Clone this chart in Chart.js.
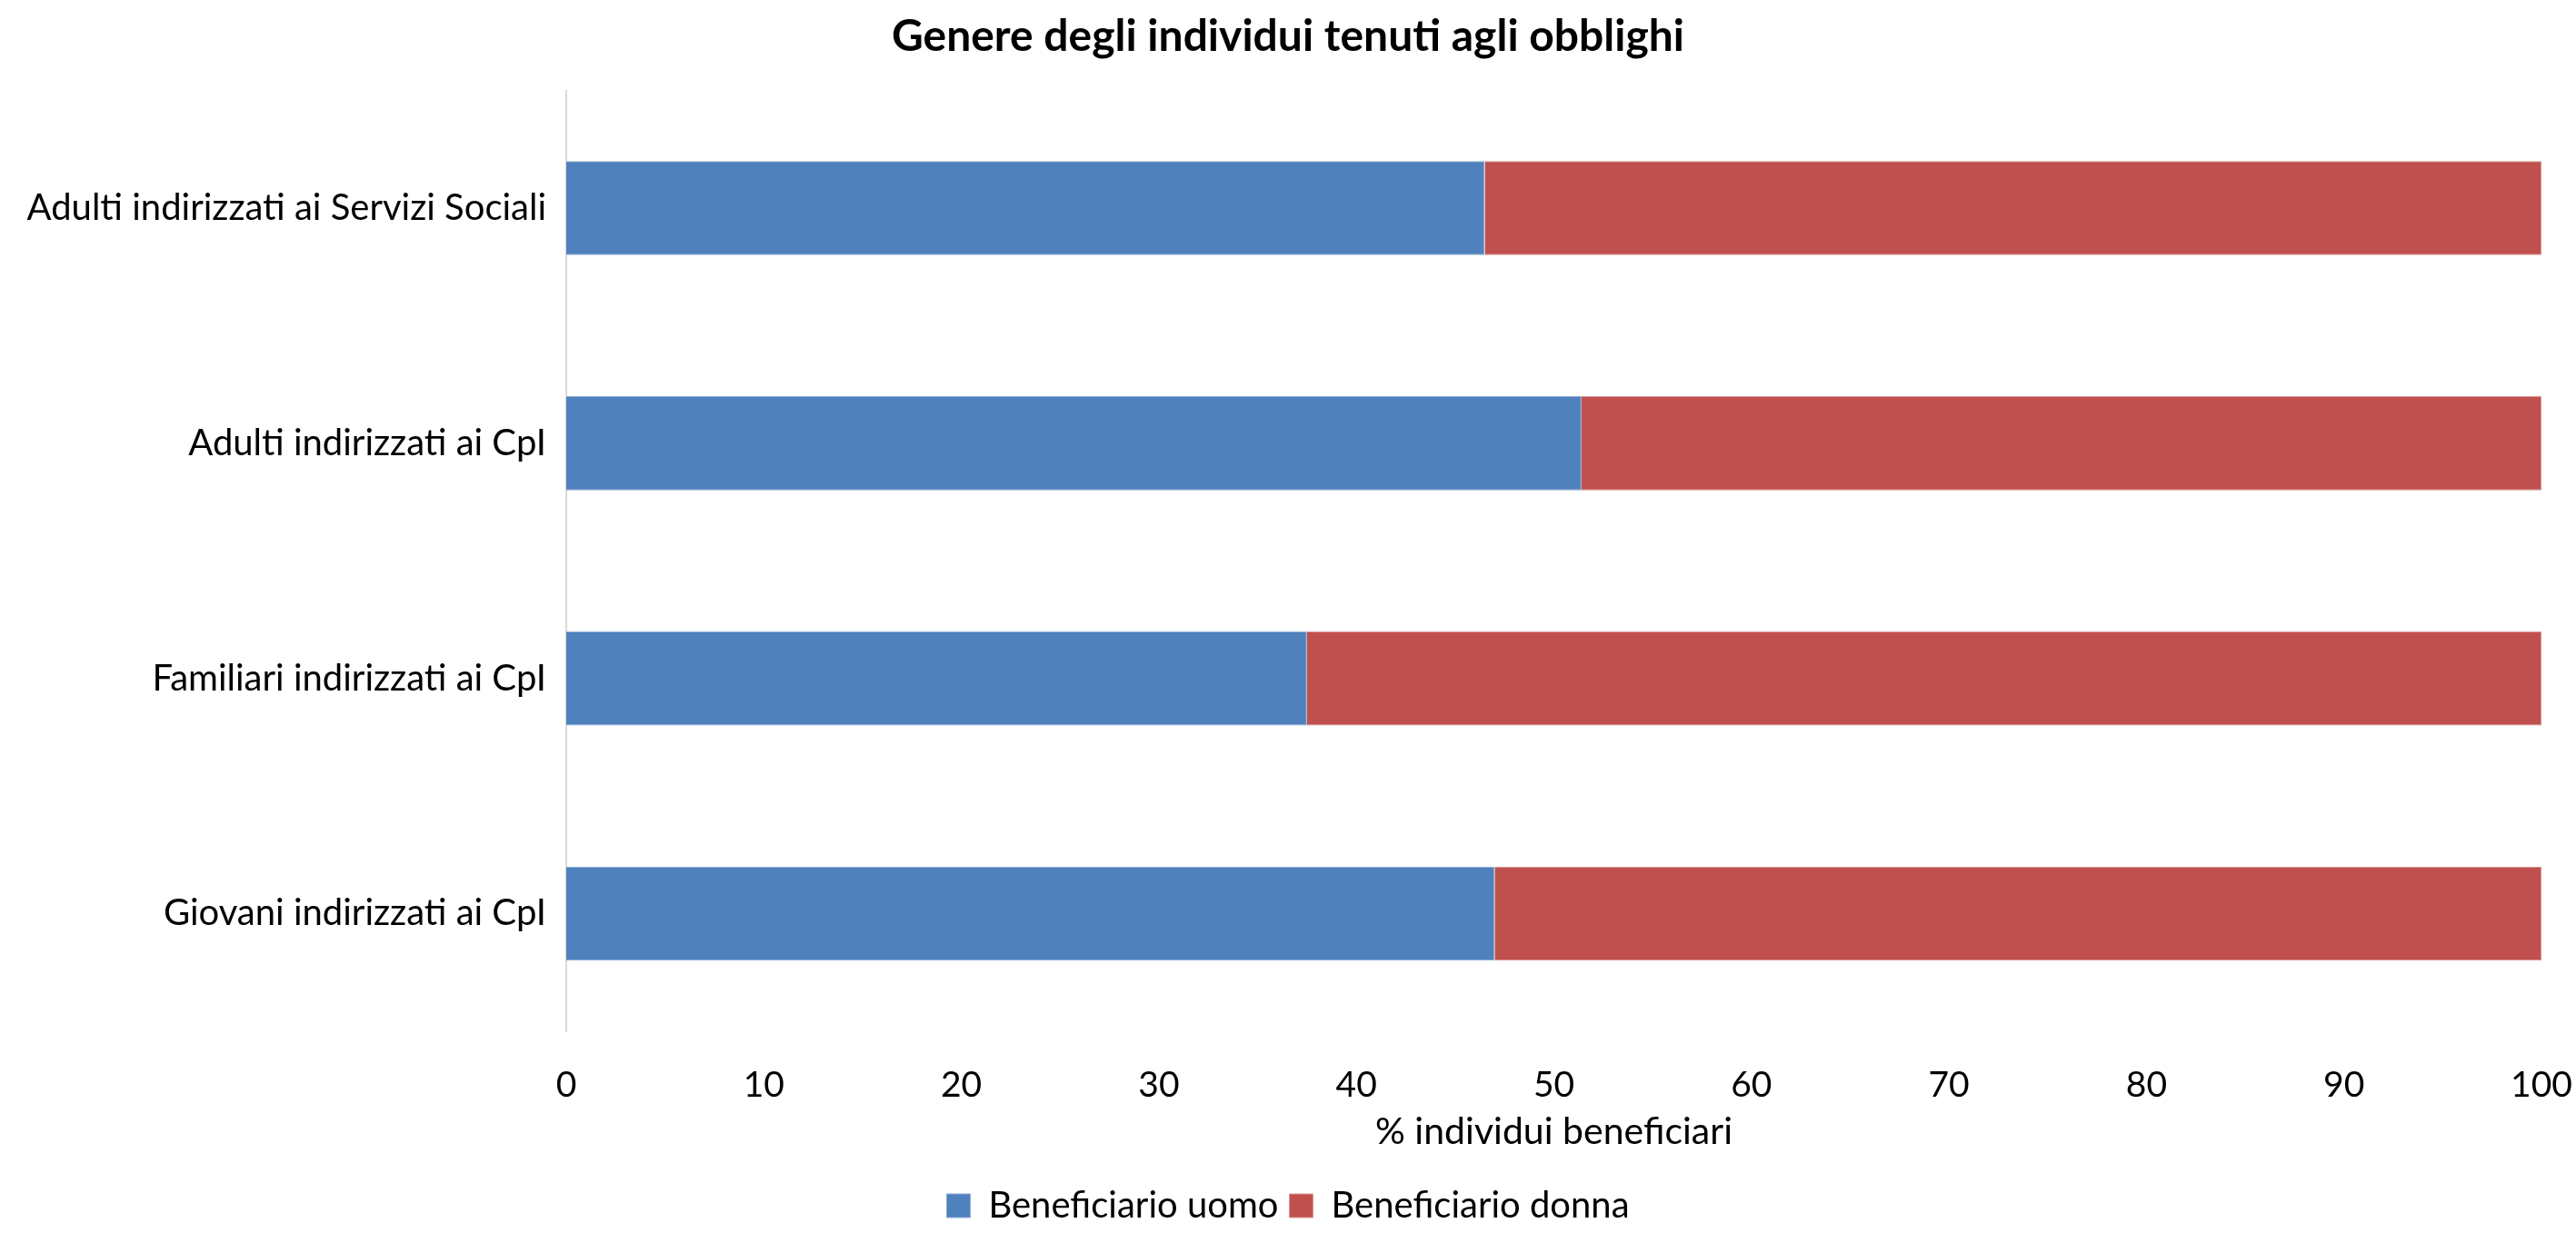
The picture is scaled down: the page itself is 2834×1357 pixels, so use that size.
<!DOCTYPE html>
<html>
<head>
<meta charset="utf-8">
<script src="https://cdn.jsdelivr.net/npm/chart.js@4"></script>
<style>
  html, body { margin: 0; padding: 0; background: #fff; }
  #wrap { position: relative; width: 2834px; height: 1357px; }
</style>
</head>
<body>
<div id="wrap"><canvas id="chart"></canvas></div>
<script>
const categories = [
  "Adulti indirizzati ai Servizi Sociali",
  "Adulti indirizzati ai CpI",
  "Familiari indirizzati ai CpI",
  "Giovani indirizzati ai CpI"
];
const uomo = [46.5, 51.4, 37.5, 47.0];
const donna = [53.5, 48.6, 62.5, 53.0];
const xTicks = [0, 10, 20, 30, 40, 50, 60, 70, 80, 90, 100];

const FONT = "Lato, 'Open Sans', sans-serif";

const ctx = document.getElementById("chart").getContext("2d");
new Chart(ctx, {
  type: "bar",
  data: {
    labels: categories,
    datasets: [
      {
        label: "Beneficiario uomo",
        data: uomo,
        backgroundColor: "#4F81BD",
        borderColor: "#8EAAD4",
        borderWidth: 1,
        barPercentage: 0.8,
        categoryPercentage: 0.5
      },
      {
        label: "Beneficiario donna",
        data: donna,
        backgroundColor: "#C0504D",
        borderColor: "#D99592",
        borderWidth: 1,
        barPercentage: 0.8,
        categoryPercentage: 0.5
      }
    ]
  },
  options: {
    indexAxis: "y",
    responsive: true,
    maintainAspectRatio: false,
    animation: false,
    layout: { padding: { left: 0, right: 0, top: 0, bottom: 0 } },
    scales: {
      x: {
        stacked: true,
        min: 0,
        max: 100,
        afterBuildTicks: (axis) => { axis.ticks = xTicks.map(v => ({ value: v })); },
        grid: { display: false, drawTicks: false },
        border: { display: false },
        ticks: { color: "#000", font: { family: FONT, size: 39 }, padding: 36 },
        title: {
          display: true,
          text: "% individui beneficiari",
          color: "#000",
          font: { family: FONT, size: 41 },
          padding: { top: 6, bottom: 25 }
        },
        afterFit: (axis) => {
          axis.height = 160;
          axis.paddingRight = 38;
        }
      },
      y: {
        stacked: true,
        grid: { display: false, drawTicks: false },
        border: { display: true, color: "#D9D9D9", width: 2 },
        ticks: { color: "#000", font: { family: FONT, size: 40 }, padding: 22 },
        afterFit: (axis) => { axis.width = 623; }
      }
    },
    plugins: {
      title: {
        display: true,
        text: "Genere degli individui tenuti agli obblighi",
        color: "#000",
        font: { family: FONT, size: 48, weight: "bold" },
        padding: { top: 12, bottom: 30 }
      },
      legend: {
        position: "bottom",
        labels: {
          color: "#000",
          font: { family: FONT, size: 40 },
          boxWidth: 26,
          boxHeight: 26,
          padding: 12
        }
      },
      tooltip: { enabled: false }
    }
  }
});
</script>
</body>
</html>
